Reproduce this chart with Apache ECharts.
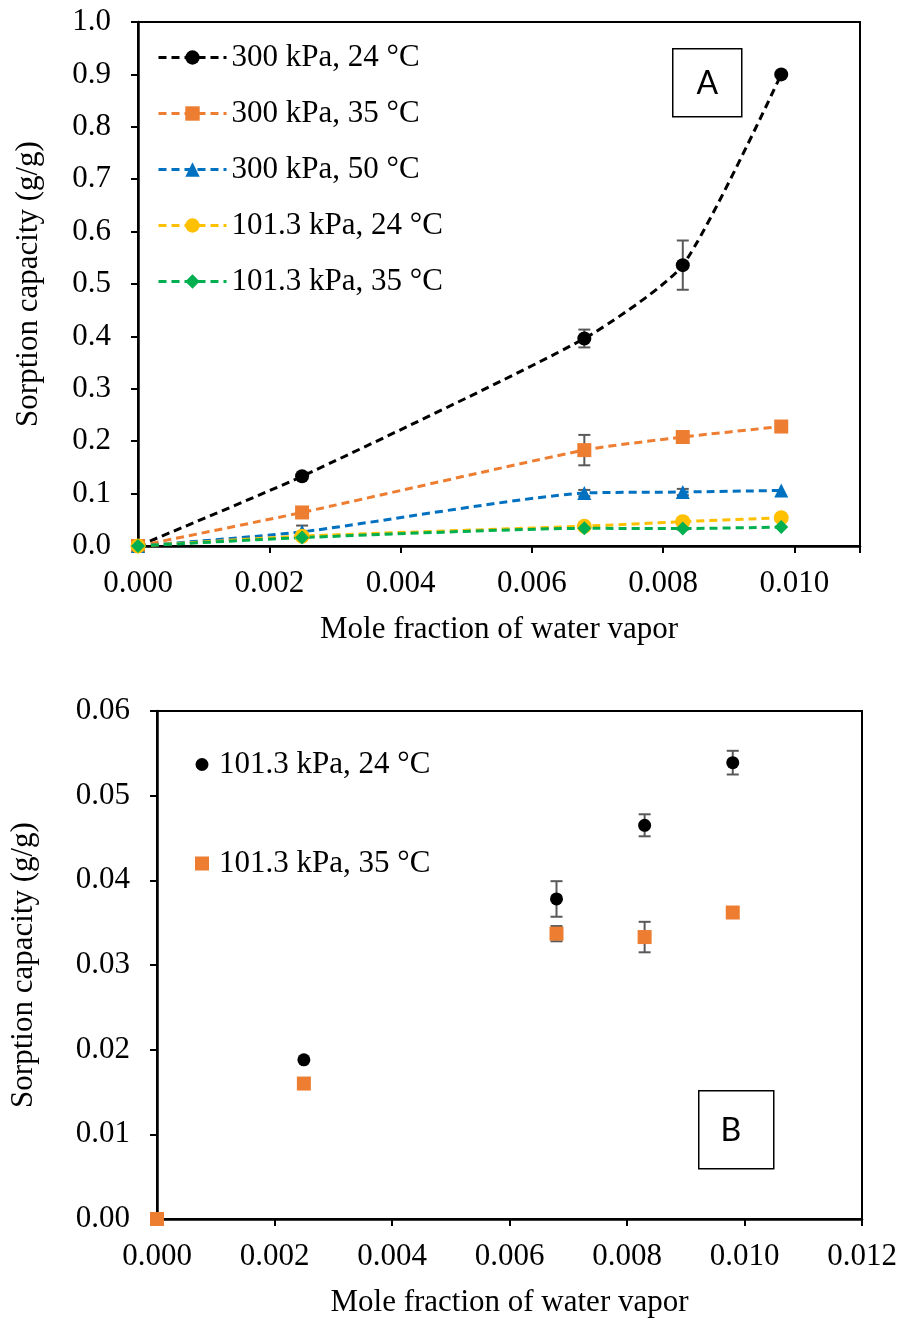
<!DOCTYPE html>
<html>
<head>
<meta charset="utf-8">
<script src="https://cdn.jsdelivr.net/npm/echarts@6/dist/echarts.min.js"></script>
<style>
html,body{margin:0;padding:0;background:#fff;}
#chart{width:902px;height:1320px;}
</style>
</head>
<body>
<div id="chart"></div>
<script>
// ---- Data ----
var xMole = [0, 0.0025, 0.0068, 0.0083, 0.0098];

var seriesNamesA = ['300 kPa, 24 °C', '300 kPa, 35 °C', '300 kPa, 50 °C', '101.3 kPa, 24 °C', '101.3 kPa, 35 °C'];
var p300t24 = [0, 0.133, 0.396, 0.536, 0.900];
var p300t35 = [0, 0.064, 0.183, 0.208, 0.228];
var p300t50 = [0, 0.027, 0.101, 0.103, 0.106];
var p101t24 = [0, 0.0188, 0.0378, 0.0465, 0.0539];
var p101t35 = [0, 0.0160, 0.0337, 0.0333, 0.0362];

var err300t24 = [0, 0, 0.017, 0.047, 0];
var err300t35 = [0, 0, 0.029, 0, 0];
var err300t50 = [0, 0.012, 0.006, 0.006, 0];
var err101t24 = [0, 0, 0.0021, 0.0013, 0.0014];
var err101t35 = [0, 0, 0.0009, 0.0018, 0];

var xTicksA = [0, 0.002, 0.004, 0.006, 0.008, 0.010];
var yTicksA = [0, 0.1, 0.2, 0.3, 0.4, 0.5, 0.6, 0.7, 0.8, 0.9, 1.0];
var xTicksB = [0, 0.002, 0.004, 0.006, 0.008, 0.010, 0.012];
var yTicksB = [0, 0.01, 0.02, 0.03, 0.04, 0.05, 0.06];

var seriesNamesB = ['101.3 kPa, 24 °C', '101.3 kPa, 35 °C'];

// ---- Helpers ----
var SERIF = '"Liberation Serif", "Times New Roman", serif';
var FS = 31;
function pairs(xs, ys) { return xs.map(function (x, i) { return [x, ys[i]]; }); }
function errData(xs, ys, es) {
  var out = [];
  xs.forEach(function (x, i) { if (es[i] > 0) out.push([x, ys[i] - es[i], ys[i] + es[i]]); });
  return out;
}
function errSeries(gridIdx, data) {
  return {
    type: 'custom', xAxisIndex: gridIdx, yAxisIndex: gridIdx, z: 1, silent: true,
    data: data,
    renderItem: function (params, api) {
      var x = api.value(0);
      var p1 = api.coord([x, api.value(1)]);
      var p2 = api.coord([x, api.value(2)]);
      var w = 6;
      var st = { stroke: '#595959', lineWidth: 2 };
      return {
        type: 'group',
        children: [
          { type: 'line', shape: { x1: p1[0], y1: p1[1], x2: p2[0], y2: p2[1] }, style: st },
          { type: 'line', shape: { x1: p1[0] - w, y1: p1[1], x2: p1[0] + w, y2: p1[1] }, style: st },
          { type: 'line', shape: { x1: p2[0] - w, y1: p2[1], x2: p2[0] + w, y2: p2[1] }, style: st }
        ]
      };
    }
  };
}
function tickFormatter(ticks, digits) {
  return function (v) {
    for (var i = 0; i < ticks.length; i++) {
      if (Math.abs(ticks[i] - v) < 1e-9) return v.toFixed(digits);
    }
    return '';
  };
}
function lineSeries(name, ys, color, symbol, size) {
  return {
    name: name, type: 'line', xAxisIndex: 0, yAxisIndex: 0, z: 3,
    data: pairs(xMole, ys),
    symbol: symbol, symbolSize: size, showSymbol: true,
    lineStyle: { color: color, width: 3, type: [8, 5] },
    itemStyle: { color: color, borderWidth: 0, opacity: 1 },
    smooth: 0.2
  };
}

var axisLabelStyle = { color: '#000', fontFamily: SERIF, fontSize: FS };
var axisNameStyle = { color: '#000', fontFamily: SERIF, fontSize: FS };

var chart = echarts.init(document.getElementById('chart'), null, { renderer: 'canvas' });
chart.setOption({
  backgroundColor: '#fff',
  animation: false,
  grid: [
    { left: 138, top: 22, width: 722, height: 524, show: true, borderColor: '#000', borderWidth: 2 },
    { left: 151, top: 711, width: 711, height: 508, show: true, borderColor: '#000', borderWidth: 2 }
  ],
  xAxis: [
    {
      gridIndex: 0, type: 'value', min: 0, max: 0.011, interval: 0.002,
      name: 'Mole fraction of water vapor', nameLocation: 'middle', nameGap: 68, nameTextStyle: axisNameStyle,
      axisLine: { lineStyle: { color: '#000', width: 2.5 } },
      axisTick: { show: true, length: 7, lineStyle: { color: '#000', width: 2 } },
      axisLabel: Object.assign({ margin: 22, formatter: tickFormatter(xTicksA, 3) }, axisLabelStyle),
      splitLine: { show: false }
    },
    {
      gridIndex: 1, type: 'value', min: 0, max: 0.012, interval: 0.002,
      name: 'Mole fraction of water vapor', nameLocation: 'middle', nameGap: 68, nameTextStyle: axisNameStyle,
      axisLine: { lineStyle: { color: '#000', width: 2.5 } },
      axisTick: { show: true, length: 7, lineStyle: { color: '#000', width: 2 } },
      axisLabel: Object.assign({ margin: 22, formatter: tickFormatter(xTicksB, 3) }, axisLabelStyle),
      splitLine: { show: false }
    }
  ],
  yAxis: [
    {
      gridIndex: 0, type: 'value', min: 0, max: 1, interval: 0.1,
      name: 'Sorption capacity (g/g)', nameLocation: 'middle', nameGap: 94, nameTextStyle: axisNameStyle,
      axisLine: { lineStyle: { color: '#000', width: 2.5 } },
      axisTick: { show: true, length: 7, lineStyle: { color: '#000', width: 2 } },
      axisLabel: Object.assign({ margin: 27, formatter: tickFormatter(yTicksA, 1) }, axisLabelStyle),
      splitLine: { show: false }
    },
    {
      gridIndex: 1, type: 'value', min: 0, max: 0.06, interval: 0.01,
      name: 'Sorption capacity (g/g)', nameLocation: 'middle', nameGap: 118, nameTextStyle: axisNameStyle,
      axisLine: { lineStyle: { color: '#000', width: 2.5 } },
      axisTick: { show: true, length: 7, lineStyle: { color: '#000', width: 2 } },
      axisLabel: Object.assign({ margin: 27, formatter: tickFormatter(yTicksB, 2) }, axisLabelStyle),
      splitLine: { show: false }
    }
  ],
  legend: [
    {
      data: seriesNamesA.map(function (n) { return { name: n }; }),
      orient: 'vertical', left: 152, top: 37, itemWidth: 68, itemHeight: 18, itemGap: 25,
      lineStyle: { width: 3 },
      textStyle: { color: '#000', fontFamily: SERIF, fontSize: FS, padding: [0, 0, 0, 0] },
      selectedMode: false
    }
  ],
  graphic: [
    {
      type: 'group', left: 672, top: 48,
      children: [
        { type: 'rect', shape: { x: 0, y: 0, width: 69, height: 68 }, style: { fill: '#fff', stroke: '#000', lineWidth: 1.5 } },
        { type: 'text', x: 34.5, y: 35, style: { text: 'A', fontFamily: 'Lato, "Open Sans", sans-serif', fontSize: 32, fill: '#000', align: 'center', verticalAlign: 'middle' } }
      ]
    },
    {
      type: 'group', left: 698, top: 1090,
      children: [
        { type: 'rect', shape: { x: 0, y: 0, width: 75, height: 78 }, style: { fill: '#fff', stroke: '#000', lineWidth: 1.5 } },
        { type: 'text', x: 32, y: 40, style: { text: 'B', fontFamily: 'Lato, "Open Sans", sans-serif', fontSize: 32, fill: '#000', align: 'center', verticalAlign: 'middle' } }
      ]
    },
    // legend for chart B (marker + text)
    {
      type: 'group', left: 195, top: 749,
      children: [
        { type: 'circle', shape: { cx: 7, cy: 15, r: 6.5 }, style: { fill: '#000' } },
        { type: 'text', x: 24, y: 15, style: { text: seriesNamesB[0], fontFamily: SERIF, fontSize: FS, fill: '#000', verticalAlign: 'middle' } },
        { type: 'rect', shape: { x: 0, y: 107, width: 14, height: 14 }, style: { fill: '#ED7D31' } },
        { type: 'text', x: 24, y: 114, style: { text: seriesNamesB[1], fontFamily: SERIF, fontSize: FS, fill: '#000', verticalAlign: 'middle' } }
      ]
    }
  ],
  series: [
    errSeries(0, errData(xMole, p300t24, err300t24)),
    errSeries(0, errData(xMole, p300t35, err300t35)),
    errSeries(0, errData(xMole, p300t50, err300t50)),
    errSeries(0, errData(xMole, p101t24, err101t24)),
    errSeries(0, errData(xMole, p101t35, err101t35)),
    lineSeries(seriesNamesA[0], p300t24, '#000000', 'circle', 14),
    lineSeries(seriesNamesA[1], p300t35, '#ED7D31', 'rect', 14),
    lineSeries(seriesNamesA[2], p300t50, '#0070C0', 'triangle', 14),
    lineSeries(seriesNamesA[3], p101t24, '#FFC000', 'circle', 15),
    lineSeries(seriesNamesA[4], p101t35, '#00B050', 'diamond', 14),
    errSeries(1, errData(xMole, p101t24, err101t24)),
    errSeries(1, errData(xMole, p101t35, err101t35)),
    {
      name: 'B ' + seriesNamesB[0], type: 'scatter', xAxisIndex: 1, yAxisIndex: 1, z: 3,
      data: pairs(xMole, p101t24), symbol: 'circle', symbolSize: 13,
      itemStyle: { color: '#000', opacity: 1 }
    },
    {
      name: 'B ' + seriesNamesB[1], type: 'scatter', xAxisIndex: 1, yAxisIndex: 1, z: 4,
      data: pairs(xMole, p101t35), symbol: 'rect', symbolSize: 14,
      itemStyle: { color: '#ED7D31', opacity: 1 }
    }
  ]
});
</script>
</body>
</html>
